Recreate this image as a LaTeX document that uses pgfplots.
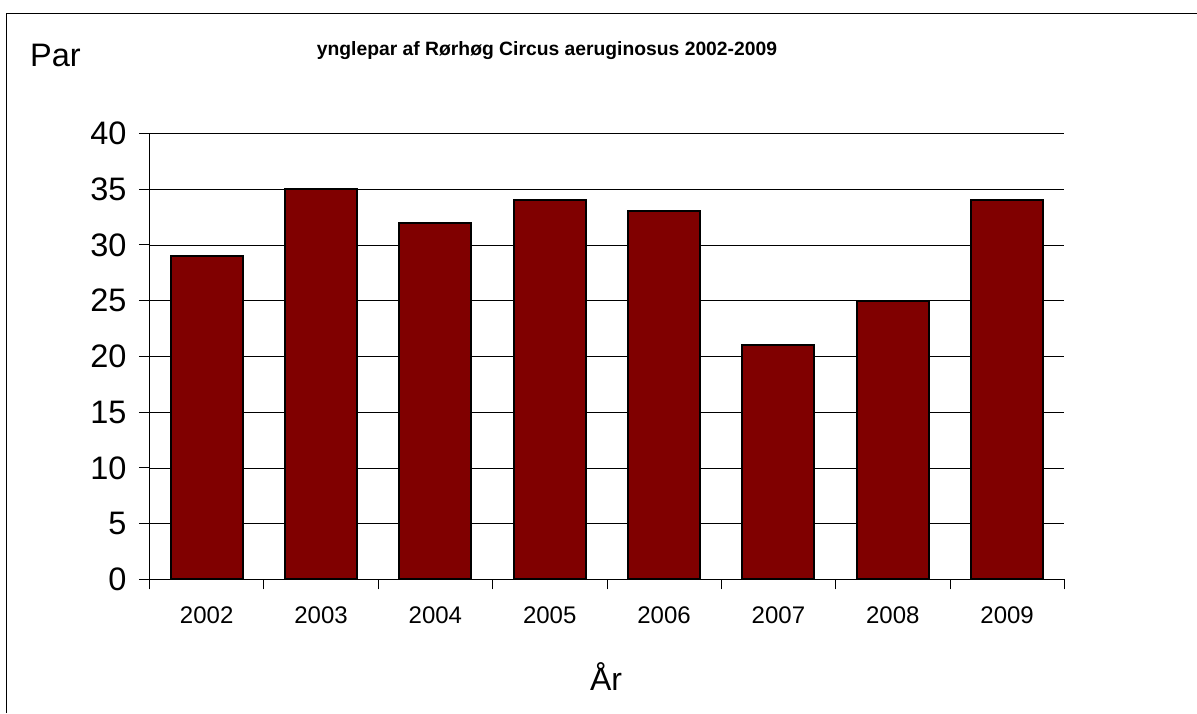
\documentclass[border=0pt]{standalone}
\usepackage{pgfplots}
\pgfplotsset{compat=1.18}
\usepackage{fontspec}
\setmainfont{Liberation Sans}
\definecolor{barred}{RGB}{128,0,0}
\begin{document}
\begin{tikzpicture}[x=1pt,y=1pt]
\useasboundingbox (0,0) rectangle (1197,713);
\draw[line width=1.5pt] (6.5,0) -- (6.5,699.5) -- (1197,699.5);
\begin{axis}[
  at={(149.5pt,133.7pt)}, anchor=south west,
  scale only axis, width=914.8pt, height=445.9pt,
  xmin=-0.5, xmax=7.5, ymin=0, ymax=40,
  axis x line*=bottom, axis y line*=left,
  axis line style={line width=0.8pt, black},
  ytick={0,5,...,40},
  ymajorgrids, grid style={black, line width=0.6pt},
  xtick={0,...,7},
  xticklabels={2002,2003,2004,2005,2006,2007,2008,2009},
  major x tick style={draw=none},
  minor xtick={-0.5,0.5,...,7.5},
  tick align=outside,
  major tick length=10.5pt, minor tick length=10pt,
  tick style={black, line width=0.8pt},
  /pgf/number format/assume math mode=true,
  yticklabel style={font=\fontsize{32.5}{38}\selectfont, anchor=east, xshift=-9pt},
  xticklabel style={font=\fontsize{24}{29}\selectfont, yshift=-13pt},
  ybar, bar width=72pt,
]
\addplot[fill=barred, draw=black, line width=2pt] coordinates {
 (0,29) (1,35) (2,32) (3,34) (4,33) (5,21) (6,25) (7,34)};
\end{axis}
\node[anchor=base, font=\fontsize{19.3}{23}\selectfont\bfseries] at (547,657) {ynglepar af Rørhøg Circus aeruginosus 2002-2009};
\node[anchor=base west, inner sep=0pt, font=\fontsize{32.5}{38}\selectfont] at (30,646) {Par};
\node[anchor=base, inner sep=0pt, font=\fontsize{32}{38}\selectfont] at (606,23) {År};
\end{tikzpicture}
\end{document}
